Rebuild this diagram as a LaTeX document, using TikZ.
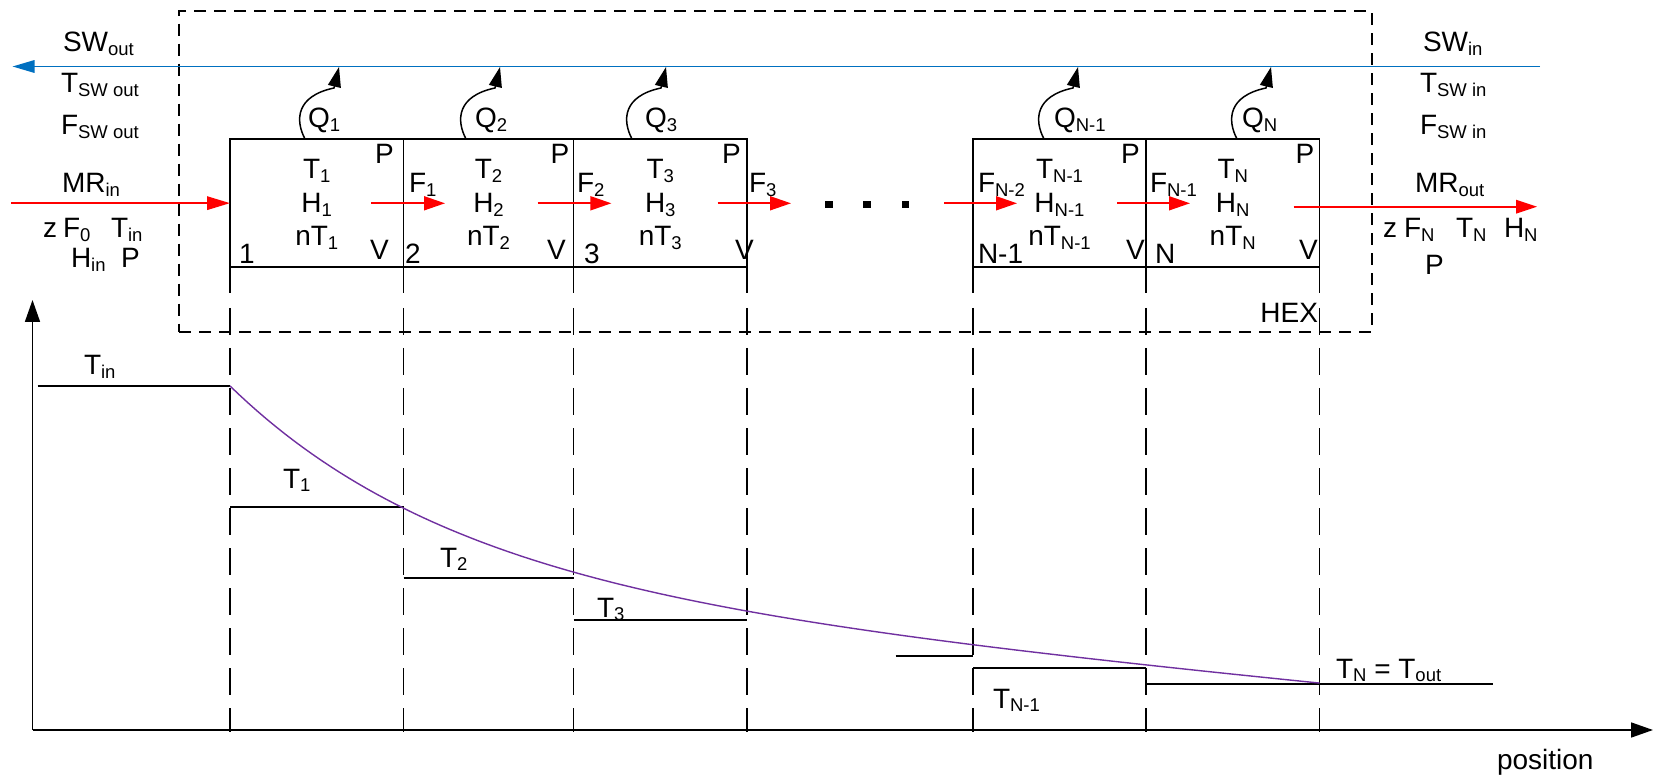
\documentclass[tikz,border=0pt]{standalone}
\usepackage{fontspec}
\setmainfont{Liberation Sans}
\usetikzlibrary{arrows.meta}
\definecolor{swblue}{HTML}{0070C0}
\definecolor{curvepurple}{HTML}{7030A0}
\newcommand{\sbs}[1]{\raisebox{-3.5pt}{\fontsize{18.5}{18.5}\selectfont #1}}
\begin{document}
\begin{tikzpicture}[x=1pt,y=-1pt,
  lbl/.style={inner sep=0pt, outer sep=0pt, font=\fontsize{28}{32}\selectfont, anchor=base west},
  cval/.style={lbl, anchor=base},
  cellbox/.style={draw, line width=1.7pt, inner sep=0pt, outer sep=0pt, minimum height=128.3pt},
  blk/.style={line width=1.7pt},
  gridline/.style={line width=1.7pt, dash pattern=on 27pt off 13pt},
  hexbox/.style={draw, line width=1.7pt, dash pattern=on 12pt off 8pt, inner sep=0pt, outer sep=0pt},
  flow/.style={draw=red, line width=1.7pt, -{Triangle[length=21pt,width=14pt]}},
  heat/.style={line width=1.5pt, -{Triangle[length=20pt,width=13pt]}},
  axis/.style={line width=1.7pt, -{Triangle[length=22pt,width=15pt]}},
  dotsq/.style={fill=black, inner sep=0pt, outer sep=0pt, minimum size=7.5pt},
]
\useasboundingbox (0,0) rectangle (1665,775);

% HEX box
\node[hexbox, minimum width=1193pt, minimum height=321pt] (hex) at (775.5,171.2) {};
\node[lbl, anchor=base east] (hexlbl) at (1318,323) {HEX};

% cells
\node[cellbox, minimum width=173.5pt] (cell1) at (316.75,203.15) {};
\node[cellbox, minimum width=170pt] (cell2) at (488.5,203.15) {};
\node[cellbox, minimum width=173.5pt] (cell3) at (660.25,203.15) {};
\node[cellbox, minimum width=173pt] (cellA) at (1059.5,203.15) {};
\node[cellbox, minimum width=173.5pt] (cellB) at (1232.75,203.15) {};

% vertical grid lines
\foreach \gx in {230,403.5,573.5,747,973,1146,1319.5}{
  \draw[blk] (\gx,267.3) -- (\gx,293);
  \draw[gridline] (\gx,308) -- (\gx,732);
}

% sea water line
\coordinate (swR) at (1540,66.5);
\coordinate (swL) at (12.5,66.5);
\draw[draw=swblue, line width=1.7pt, -{Triangle[length=22pt,width=12.5pt]}] (swR) -- (swL);

% heat arrows
\foreach \s in {305,466,632,1044,1237}{
  \draw[heat] (\s,139) .. controls (\s-10,120) and (\s-9,96) .. (\s+29,88) -- (\s+34,67);
}
\node[lbl] (q1) at (308,128) {Q\sbs{1}};
\node[lbl] (q2) at (475,128) {Q\sbs{2}};
\node[lbl] (q3) at (645,128) {Q\sbs{3}};
\node[lbl] (qa) at (1054,128) {Q\sbs{N-1}};
\node[lbl] (qb) at (1242,128) {Q\sbs{N}};

% flows
\coordinate (mrL) at (11,203.15);
\draw[flow, -{Triangle[length=23pt,width=13.5pt]}] (mrL) -- (cell1.west);
\coordinate (f1s) at (371,203.3);  \coordinate (f1e) at (445,203.3);
\coordinate (f2s) at (537.5,203.3); \coordinate (f2e) at (611.4,203.3);
\coordinate (f3s) at (717.5,203.3); \coordinate (f3e) at (791,203.3);
\coordinate (fas) at (944,203.3);  \coordinate (fae) at (1017,203.3);
\coordinate (fbs) at (1117,203.3); \coordinate (fbe) at (1190,203.3);
\coordinate (outs) at (1293.5,206.7); \coordinate (oute) at (1537,206.7);
\draw[flow] (f1s) -- (f1e);
\draw[flow] (f2s) -- (f2e);
\draw[flow] (f3s) -- (f3e);
\draw[flow] (fas) -- (fae);
\draw[flow] (fbs) -- (fbe);
\draw[flow, -{Triangle[length=21pt,width=13.5pt]}] (outs) -- (oute);

% dots
\node[dotsq] (dot1) at (829,204.5) {};
\node[dotsq] (dot2) at (867,204.5) {};
\node[dotsq] (dot3) at (905.5,204.5) {};

% F labels
\node[lbl] (fl1) at (409,193) {F\sbs{1}};
\node[lbl] (fl2) at (577,193) {F\sbs{2}};
\node[lbl] (fl3) at (749,193) {F\sbs{3}};
\node[lbl] (fla) at (978,193) {F\sbs{N-2}};
\node[lbl] (flb) at (1150,193) {F\sbs{N-1}};

% cell contents
\node[cval] (t1) at (316.75,179) {T\sbs{1}};
\node[cval] (h1) at (316.75,213) {H\sbs{1}};
\node[cval] (n1) at (316.75,246) {nT\sbs{1}};
\node[cval] (t2) at (488.5,179) {T\sbs{2}};
\node[cval] (h2) at (488.5,213) {H\sbs{2}};
\node[cval] (n2) at (488.5,246) {nT\sbs{2}};
\node[cval] (t3) at (660.25,179) {T\sbs{3}};
\node[cval] (h3) at (660.25,213) {H\sbs{3}};
\node[cval] (n3) at (660.25,246) {nT\sbs{3}};
\node[cval] (ta) at (1059.5,179) {T\sbs{N-1}};
\node[cval] (ha) at (1059.5,213) {H\sbs{N-1}};
\node[cval] (na) at (1059.5,246) {nT\sbs{N-1}};
\node[cval] (tb) at (1232.75,179) {T\sbs{N}};
\node[cval] (hb) at (1232.75,213) {H\sbs{N}};
\node[cval] (nb) at (1232.75,246) {nT\sbs{N}};

\node[lbl] (p1) at (375,164) {P};
\node[lbl] (v1) at (370,260) {V};
\node[lbl] (k1) at (239,264) {1};
\node[lbl] (p2) at (550.5,164) {P};
\node[lbl] (v2) at (547,260) {V};
\node[lbl] (k2) at (405,264) {2};
\node[lbl] (p3) at (722,164) {P};
\node[lbl] (v3) at (735,260) {V};
\node[lbl] (k3) at (584,264) {3};
\node[lbl] (pa) at (1121,164) {P};
\node[lbl] (va) at (1126,260) {V};
\node[lbl] (ka) at (978,264) {N-1};
\node[lbl] (pb) at (1295.5,164) {P};
\node[lbl] (vb) at (1299,260) {V};
\node[lbl] (kb) at (1155,264) {N};

% left side labels
\node[lbl] (swout) at (63,52) {SW\sbs{out}};
\node[lbl] (tswout) at (61,93) {T\sbs{SW out}};
\node[lbl] (fswout) at (61,135) {F\sbs{SW out}};
\node[lbl] (mrin) at (62,193) {MR\sbs{in}};
\node[lbl] (zl) at (43,238) {z};
\node[lbl] (f0) at (63,238) {F\sbs{0}};
\node[lbl] (tin) at (111,238) {T\sbs{in}};
\node[lbl] (hin) at (71,268) {H\sbs{in}};
\node[lbl] (pin) at (121,268) {P};

% right side labels
\node[lbl] (swin) at (1423,52) {SW\sbs{in}};
\node[lbl] (tswin) at (1420,93) {T\sbs{SW in}};
\node[lbl] (fswin) at (1420,135) {F\sbs{SW in}};
\node[lbl] (mrout) at (1415,193) {MR\sbs{out}};
\node[lbl] (zr) at (1383,238) {z};
\node[lbl] (fn) at (1404,238) {F\sbs{N}};
\node[lbl] (tn) at (1456,238) {T\sbs{N}};
\node[lbl] (hn) at (1504,238) {H\sbs{N}};
\node[lbl] (pout) at (1425,275) {P};

% plot axes
\coordinate (origin) at (32.5,730);
\coordinate (ytip) at (32.5,300);
\coordinate (xtip) at (1653,730);
\draw[axis] (origin) -- (ytip);
\draw[axis] (origin) -- (xtip);
\node[lbl] (poslbl) at (1497,769) {position};

% step lines
\draw[blk] (37.5,386) -- (230,386);
\draw[blk] (230,507) -- (403.5,507);
\draw[blk] (403.5,578) -- (573.5,578);
\draw[blk] (573.5,620) -- (747,620);
\draw[blk] (895.7,655.7) -- (973,655.7);
\draw[blk] (973,668.3) -- (1146,668.3);
\draw[blk] (1146,684.3) -- (1493,684.3);

\node[lbl] (ltin) at (84,375) {T\sbs{in}};
\node[lbl] (lt1) at (283,488) {T\sbs{1}};
\node[lbl] (lt2) at (440,567) {T\sbs{2}};
\node[lbl] (lt3) at (597,617) {T\sbs{3}};
\node[lbl] (lta) at (993,708) {T\sbs{N-1}};
\node[lbl] (ltout) at (1336,678) {T\sbs{N} = T\sbs{out}};

% temperature profile
\draw[draw=curvepurple, line width=1.4pt] plot[domain=0:1089.5, samples=120, variable=\u] ({230+\u}, {386+195*(1-exp(-0.0045*\u))+0.095*\u});

\end{tikzpicture}
\end{document}
